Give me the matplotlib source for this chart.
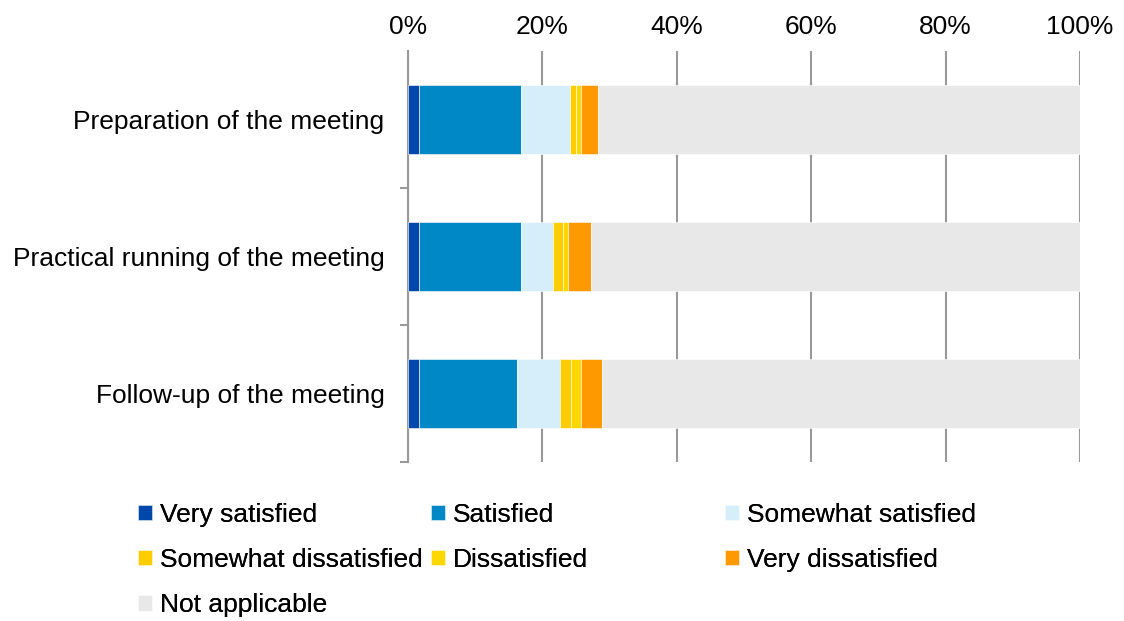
import numpy as np
import matplotlib
matplotlib.use("Agg")
import matplotlib.pyplot as plt

categories = ["Preparation of the meeting",
              "Practical running of the meeting",
              "Follow-up of the meeting"]
series = ["Very satisfied", "Satisfied", "Somewhat satisfied",
          "Somewhat dissatisfied", "Dissatisfied", "Very dissatisfied",
          "Not applicable"]
very_satisfied = [1.6, 1.6, 1.6]
satisfied = [15.2, 15.2, 14.6]
somewhat_satisfied = [7.3, 4.8, 6.4]
somewhat_dissatisfied = [0.9, 1.5, 1.6]
dissatisfied = [0.8, 0.7, 1.6]
very_dissatisfied = [2.5, 3.4, 3.1]
not_applicable = [71.7, 72.8, 71.1]
colors = ["#0047AB", "#0088C6", "#D6EEF9", "#FFCC00", "#FFD700",
          "#FF9900", "#E8E8E8"]

values = [very_satisfied, satisfied, somewhat_satisfied, somewhat_dissatisfied,
          dissatisfied, very_dissatisfied, not_applicable]

plt.rcParams['font.family'] = ['Liberation Sans', 'DejaVu Sans']
fs = 19
fig = plt.figure(figsize=(11.24, 6.21), dpi=100)
ax = fig.add_axes([408/1124, 1-462/621, 672/1124, 411/621])

y = np.arange(len(categories))
left = np.zeros(len(categories))
handles = []
for name, vals, c in zip(series, values, colors):
    vals = np.array(vals)
    h = ax.barh(y, vals, left=left, height=0.5, color=c, label=name,
                edgecolor="white", linewidth=0.4, zorder=3)
    handles.append(h)
    left += vals

ax.set_xlim(0, 100)
ax.set_ylim(len(categories) - 0.5, -0.5)
ax.set_xticks(np.arange(0, 101, 20))
ax.set_xticklabels([f"{v}%" for v in range(0, 101, 20)])
ax.xaxis.tick_top()
ax.tick_params(axis="x", length=0, labelsize=fs, pad=9)
ax.grid(axis="x", color="#999999", linewidth=1.5, zorder=0)
ax.set_yticks(y)
ax.set_yticklabels(categories)
ax.tick_params(axis="y", which="major", length=0, labelsize=fs, pad=17)
ax.set_yticks(np.arange(-0.5, len(categories), 1)[1:], minor=True)
ax.tick_params(axis="y", which="minor", length=6, width=1.5, color="#999999")
for s in ["top", "right", "bottom"]:
    ax.spines[s].set_visible(False)
ax.spines["left"].set_color("#999999")
ax.spines["left"].set_linewidth(1.5)

# legend laid out row by row in three fixed-width columns
cols = [[0, 3, 6], [1, 4], [2, 5]]
col_x = [138, 431, 725]
for idx, xpx in zip(cols, col_x):
    leg = fig.legend([handles[i] for i in idx], [series[i] for i in idx],
                     loc="upper left", bbox_to_anchor=(xpx/1124, 1-503/621),
                     frameon=False, fontsize=fs, borderpad=0, borderaxespad=0,
                     handlelength=0.52, handleheight=0.52, handletextpad=0.3,
                     labelspacing=0.8)
    fig.add_artist(leg)

fig.savefig("out.png", dpi=100)
